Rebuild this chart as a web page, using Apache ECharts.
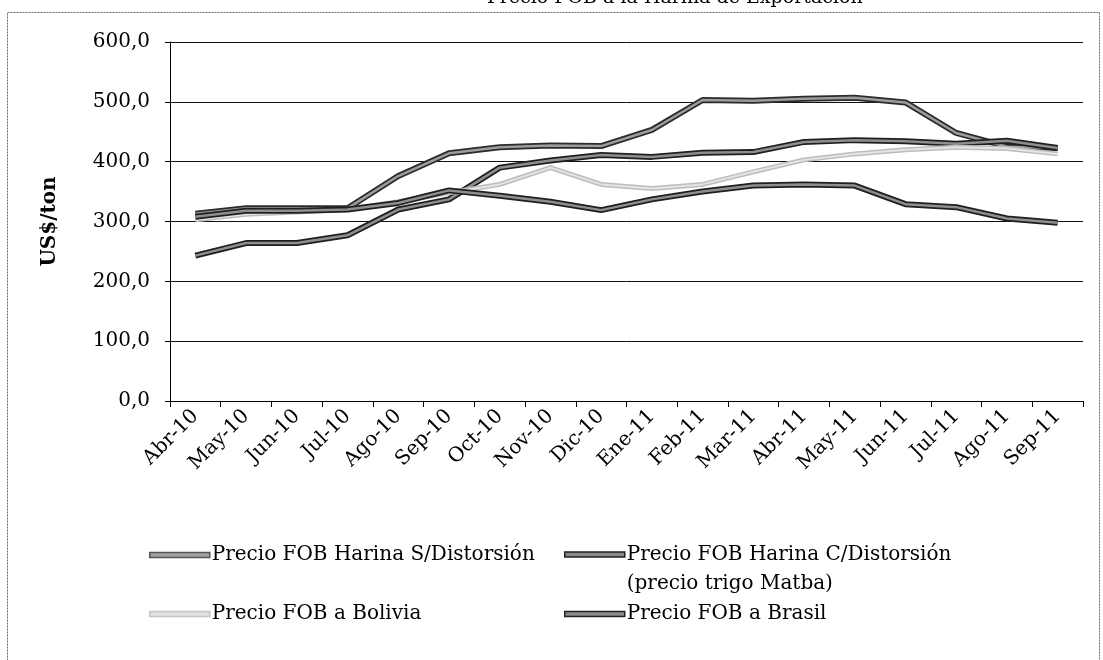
<!DOCTYPE html>
<html>
<head>
<meta charset="utf-8">
<script src="https://cdn.jsdelivr.net/npm/echarts@6/dist/echarts.min.js"></script>
<style>
  html, body { margin: 0; padding: 0; background: #fff; }
  #chart { width: 1103px; height: 660px; }
</style>
</head>
<body>
<div id="chart"></div>
<script>
const months = ['Abr-10', 'May-10', 'Jun-10', 'Jul-10', 'Ago-10', 'Sep-10', 'Oct-10', 'Nov-10', 'Dic-10',
  'Ene-11', 'Feb-11', 'Mar-11', 'Abr-11', 'May-11', 'Jun-11', 'Jul-11', 'Ago-11', 'Sep-11'];

const harinaSinDist = [313, 322, 322, 322, 376, 414, 424, 427, 426, 453, 503, 502, 505, 507, 499, 448, 425, 423];
const harinaConDist = [243, 264, 264, 277, 320, 337, 390, 402, 411, 408, 415, 416, 433, 436, 434, 430, 435, 423];
const fobBolivia = [303, 312, 316, 320, 333, 348, 362, 390, 362, 355, 362, 383, 403, 413, 420, 424, 422, 413];
const fobBrasil = [308, 318, 318, 320, 331, 352, 343, 333, 319, 337, 350, 360, 362, 360, 329, 324, 305, 298];

const yTicks = [0, 100, 200, 300, 400, 500, 600];

const names = {
  sin: 'Precio FOB Harina S/Distorsión',
  con: 'Precio FOB Harina C/Distorsión',
  bol: 'Precio FOB a Bolivia',
  bra: 'Precio FOB a Brasil'
};

const serif = '"DejaVu Serif", "Liberation Serif", serif';
const chart = echarts.init(document.getElementById('chart'));

// Excel-style "double" line: dark outline under a lighter core
function outlined(name, data, edge, core, edgeW, coreW) {
  return [
    {
      name: name + ' borde', type: 'line', data: data, symbol: 'none', silent: true,
      lineStyle: { color: edge, width: edgeW }
    },
    {
      name: name, type: 'line', data: data, symbol: 'none',
      lineStyle: { color: core, width: coreW }
    }
  ];
}

function legendAt(left, top, name, edge, core, extra) {
  return Object.assign({
    left: left, top: top, padding: 0,
    data: [{ name: name, icon: 'rect', itemStyle: { color: core, borderColor: edge, borderWidth: 1.5 } }],
    itemWidth: 60, itemHeight: 5, itemGap: 0,
    textStyle: { fontFamily: serif, fontSize: 20, color: '#000', padding: [0, 0, 0, -3] },
    selectedMode: false
  }, extra || {});
}

const option = {
  backgroundColor: '#fff',
  animation: false,
  title: {
    text: 'Precio FOB a la Harina de Exportación',
    left: 482, top: -16,
    textStyle: { fontFamily: serif, fontSize: 19, fontWeight: 'normal', color: '#000' }
  },
  graphic: [{
    type: 'rect', shape: { x: 7.5, y: 12.5, width: 1092, height: 660 },
    style: { fill: null, stroke: '#666', lineWidth: 1, lineDash: [2, 1] }, silent: true
  }],
  grid: { left: 170, right: 20, top: 42, bottom: 259 },
  xAxis: {
    type: 'category',
    data: months,
    boundaryGap: true,
    axisLine: { lineStyle: { color: '#000', width: 1 } },
    axisTick: { show: true, length: 6, lineStyle: { color: '#000' } },
    axisLabel: { rotate: 45, fontFamily: serif, fontSize: 20, color: '#000', margin: 12, interval: 0 }
  },
  yAxis: {
    type: 'value',
    min: yTicks[0], max: yTicks[yTicks.length - 1], interval: 100,
    name: 'US$/ton',
    nameLocation: 'middle',
    nameGap: 110,
    nameTextStyle: { fontFamily: serif, fontSize: 20, fontWeight: 'bold', color: '#000' },
    axisLine: { show: true, lineStyle: { color: '#000', width: 1 } },
    axisTick: { show: true, length: 5, lineStyle: { color: '#000' } },
    axisLabel: {
      fontFamily: serif, fontSize: 20, color: '#000', margin: 20,
      formatter: (v) => v.toFixed(1).replace('.', ',')
    },
    splitLine: { lineStyle: { color: '#111', width: 1 } }
  },
  legend: [
    legendAt(149, 545, names.sin, '#555', '#a0a0a0'),
    legendAt(564, 511, names.con, '#222', '#8a8a8a', {
      formatter: (n) => ' \n' + n + '\n(precio trigo Matba)',
      textStyle: { fontFamily: serif, fontSize: 20, color: '#000', lineHeight: 29, padding: [0, 0, 0, -3] }
    }),
    legendAt(149, 604, names.bol, '#c4c4c4', '#e2e2e2'),
    legendAt(564, 604, names.bra, '#222', '#8a8a8a')
  ],
  series: [
    ...outlined(names.sin, harinaSinDist, '#2b2b2b', '#9c9c9c', 6, 2.5),
    ...outlined(names.con, harinaConDist, '#1f1f1f', '#8e8e8e', 6, 2.5),
    ...outlined(names.bol, fobBolivia, '#bdbdbd', '#e4e4e4', 5, 2),
    ...outlined(names.bra, fobBrasil, '#1f1f1f', '#8e8e8e', 6, 2.5)
  ]
};

chart.setOption(option);
window.addEventListener('resize', () => chart.resize());
</script>
</body>
</html>
